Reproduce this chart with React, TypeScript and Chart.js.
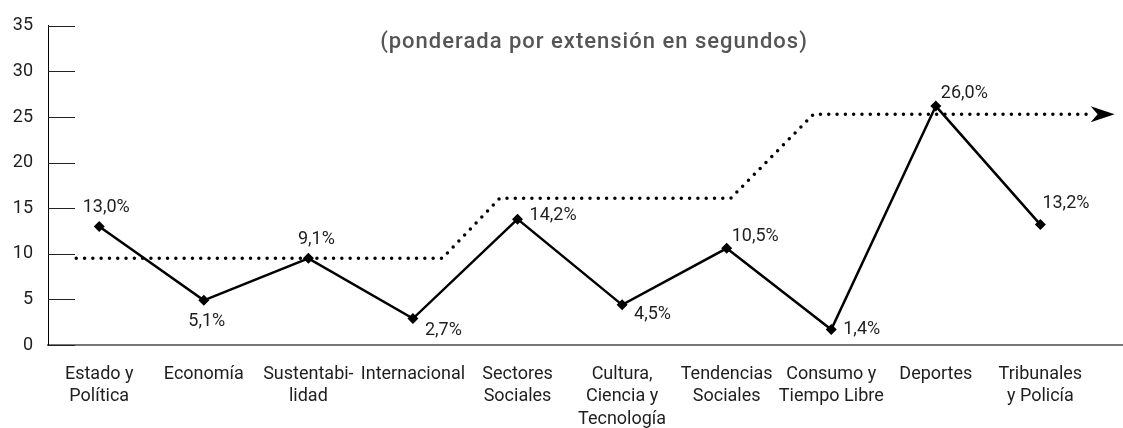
import React, { useEffect, useRef } from "react";
import { Chart, registerables } from "chart.js";

Chart.register(...registerables);

// ---- data ----
const categories: string[][] = [
  ["Estado y", "Política"],
  ["Economía"],
  ["Sustentabi-", "lidad"],
  ["Internacional"],
  ["Sectores", "Sociales"],
  ["Cultura,", "Ciencia y", "Tecnología"],
  ["Tendencias", "Sociales"],
  ["Consumo y", "Tiempo Libre"],
  ["Deportes"],
  ["Tribunales", "y Policía"],
];
const values: number[] = [13.0, 4.9, 9.5, 2.9, 13.8, 4.4, 10.6, 1.7, 26.2, 13.2];
const valueLabels: string[] = ["13,0%", "5,1%", "9,1%", "2,7%", "14,2%", "4,5%", "10,5%", "1,4%", "26,0%", "13,2%"];
const trendX: number[] = [-0.22, 3.28, 3.83, 6.04, 6.83, 9.49];
const trendY: number[] = [9.5, 9.5, 16.1, 16.1, 25.3, 25.3];
const yTicks: number[] = [0, 5, 10, 15, 20, 25, 30, 35];
const titleText = "(ponderada por extensión en segundos)";

// label placement (style): dx, dy from point, text alignment
const labelPlacement: { dx: number; dy: number; align: CanvasTextAlign }[] = [
  { dx: 7, dy: -19, align: "center" },
  { dx: 3, dy: 21, align: "center" },
  { dx: 8, dy: -19, align: "center" },
  { dx: 12, dy: 12, align: "left" },
  { dx: 12, dy: -4, align: "left" },
  { dx: 12, dy: 10, align: "left" },
  { dx: 5, dy: -12, align: "left" },
  { dx: 12, dy: 0, align: "left" },
  { dx: 5, dy: -13, align: "left" },
  { dx: 2, dy: -21, align: "left" },
];

const FONT = "Roboto, 'DejaVu Sans', sans-serif";
const TEXT = "#1e1e1e";

const decorPlugin = {
  id: "decor",
  afterDraw(chart: any) {
    const { ctx, chartArea, scales } = chart;
    const y = scales.y;
    ctx.save();
    // inward tick marks
    ctx.strokeStyle = "#222";
    ctx.lineWidth = 1;
    yTicks.forEach((v) => {
      const py = Math.round(y.getPixelForValue(v)) + 0.5;
      ctx.beginPath();
      ctx.moveTo(chartArea.left, py);
      ctx.lineTo(chartArea.left + 27, py);
      ctx.stroke();
    });
    // title
    ctx.fillStyle = "#555";
    ctx.font = `500 22px ${FONT}`;
    (ctx as any).letterSpacing = "1px";
    ctx.textAlign = "center";
    ctx.textBaseline = "middle";
    ctx.fillText(titleText, 594, 42);
    ctx.restore();
  },
  afterDatasetsDraw(chart: any) {
    const { ctx } = chart;
    ctx.save();
    // arrow head on trend line
    const tmeta = chart.getDatasetMeta(0);
    const last = tmeta.data[tmeta.data.length - 1];
    if (last) {
      const bx = last.x, by = last.y;
      ctx.fillStyle = "#000";
      ctx.beginPath();
      ctx.moveTo(bx + 23, by);
      ctx.lineTo(bx - 1, by - 8);
      ctx.lineTo(bx + 6, by);
      ctx.lineTo(bx - 1, by + 8);
      ctx.closePath();
      ctx.fill();
    }
    // value labels
    const meta = chart.getDatasetMeta(1);
    ctx.fillStyle = TEXT;
    ctx.font = `18px ${FONT}`;
    ctx.textBaseline = "middle";
    meta.data.forEach((pt: any, i: number) => {
      const p = labelPlacement[i];
      ctx.textAlign = p.align;
      ctx.fillText(valueLabels[i], pt.x + p.dx, pt.y + p.dy);
    });
    ctx.restore();
  },
};

export default function App() {
  const ref = useRef<HTMLCanvasElement>(null);
  useEffect(() => {
    if (!ref.current) return;
    const chart = new Chart(ref.current, {
      type: "line",
      data: {
        datasets: [
          {
            data: trendX.map((x, i) => ({ x, y: trendY[i] })),
            borderColor: "#000",
            borderWidth: 3.5,
            borderDash: [0, 8.3],
            borderCapStyle: "round",
            pointRadius: 0,
            tension: 0,
            fill: false,
            order: 2,
          },
          {
            data: values.map((v, i) => ({ x: i, y: v })),
            borderColor: "#000",
            borderWidth: 2.5,
            backgroundColor: "#000",
            pointStyle: "rectRot",
            pointRadius: 5.5,
            pointBorderWidth: 0,
            pointBackgroundColor: "#000",
            tension: 0,
            fill: false,
            order: 1,
          },
        ],
      } as any,
      options: {
        animation: false,
        responsive: false,
        layout: { autoPadding: false, padding: { top: 18, left: 0, right: 0, bottom: 0 } },
        plugins: { legend: { display: false }, tooltip: { enabled: false }, title: { display: false } },
        scales: {
          x: {
            type: "linear",
            min: -0.49,
            max: 9.79,
            afterBuildTicks: (scale: any) => {
              scale.ticks = categories.map((_, i) => ({ value: i }));
            },
            afterFit: (scale: any) => {
              scale.height = 83;
              scale.paddingLeft = 0;
              scale.paddingRight = 0;
            },
            grid: { display: true, drawOnChartArea: false, drawTicks: false },
            border: { display: true, color: "#777", width: 2 },
            ticks: {
              autoSkip: false,
              maxRotation: 0,
              minRotation: 0,
              padding: 18,
              color: TEXT,
              font: { family: FONT, size: 18, lineHeight: 1.25 },
              callback: (v: any) => categories[v as number] ?? "",
            },
          },
          y: {
            type: "linear",
            min: 0,
            max: 35,
            afterBuildTicks: (scale: any) => {
              scale.ticks = yTicks.map((v) => ({ value: v }));
            },
            afterFit: (scale: any) => {
              scale.width = 48;
            },
            grid: { display: true, drawOnChartArea: false, drawTicks: false },
            border: { display: true, color: "#000", width: 1 },
            ticks: {
              padding: 15,
              color: TEXT,
              font: { family: FONT, size: 18 },
            },
          },
        },
      } as any,
      plugins: [decorPlugin],
    });
    return () => chart.destroy();
  }, []);
  return (
    <div style={{ position: "fixed", left: 0, top: 0, width: 1123, height: 428, background: "#fff" }}>
      <canvas ref={ref} width={1123} height={428} />
    </div>
  );
}
